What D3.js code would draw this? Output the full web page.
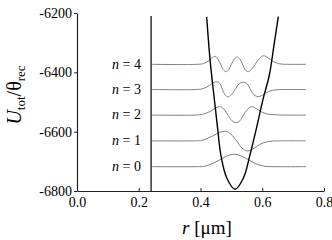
<!DOCTYPE html>
<html><head><meta charset="utf-8">
<script src="https://cdn.jsdelivr.net/npm/d3@7"></script>
<style>
body{margin:0;background:#fff;}
svg{display:block;}
svg text{font-family:"Liberation Serif","Times New Roman","DejaVu Serif",serif !important;fill:#000;}
</style></head>
<body>
<svg id="c" width="332" height="240"></svg>
<script>
// ---- data ----
const xTicks = [0, 0.2, 0.4, 0.6, 0.8];
const yTicks = [-6200, -6400, -6600, -6800];
const levels = [-6718, -6631, -6544, -6458, -6373]; // n = 0..4
const levelLabels = ["0", "1", "2", "3", "4"];
const wallR = 0.24;
const wallTop = -6210;
const potential = [[0.42,-6213],[0.431,-6358],[0.445,-6493],[0.456,-6594],[0.466,-6679],[0.485,-6756],[0.512,-6794],[0.539,-6756],[0.56,-6679],[0.58,-6594],[0.602,-6493],[0.623,-6409],[0.638,-6308],[0.652,-6212]];
const psi0 = [[0.24,0],[0.39,0],[0.411,1],[0.431,7],[0.457,20],[0.483,35],[0.509,42],[0.534,35],[0.56,20],[0.586,7],[0.612,1],[0.64,0],[0.742,0]];
const psi1 = [[0.24,0],[0.382,0],[0.40,1],[0.415,5],[0.44,17],[0.463,29],[0.483,32],[0.499,22],[0.517,0],[0.534,-24],[0.551,-34],[0.57,-27],[0.59,-13],[0.609,-5],[0.632,-1],[0.657,0],[0.742,0]];
const psi2 = [[0.24,0],[0.382,0],[0.408,3],[0.431,12],[0.45,24],[0.465,28],[0.478,17],[0.489,0],[0.502,-19],[0.515,-26],[0.528,-19],[0.539,0],[0.551,17],[0.564,28],[0.58,22],[0.599,10],[0.619,3],[0.645,1],[0.67,0],[0.742,0]];
const psi3 = [[0.24,0],[0.382,0],[0.408,3],[0.428,13],[0.44,22],[0.453,26],[0.463,20],[0.471,0],[0.479,-17],[0.489,-25],[0.5,-17],[0.512,0],[0.525,19],[0.538,25],[0.551,19],[0.562,0],[0.573,-17],[0.586,-24],[0.599,-20],[0.612,-12],[0.625,-5],[0.645,-1],[0.67,0],[0.742,0]];
const psi4 = [[0.24,0],[0.389,0],[0.411,3],[0.428,13],[0.437,22],[0.447,27],[0.457,17],[0.465,0],[0.473,-17],[0.483,-25],[0.492,-17],[0.5,0],[0.509,17],[0.518,25],[0.528,17],[0.536,0],[0.544,-17],[0.554,-25],[0.565,-17],[0.577,0],[0.59,19],[0.604,29],[0.619,22],[0.632,12],[0.645,5],[0.661,1],[0.683,0],[0.742,0]];
const waves = [psi0, psi1, psi2, psi3, psi4];

// ---- chart ----
const svg = d3.select("#c");
const x = d3.scaleLinear().domain([0, 0.8]).range([77, 324]);
const y = d3.scaleLinear().domain([-6800, -6200]).range([191, 13]);

// axes
const gx = svg.append("g").attr("transform", `translate(0,${y(-6800)})`)
  .call(d3.axisBottom(x).tickValues(xTicks).tickFormat(d3.format(".1f")).tickSizeInner(-3).tickSizeOuter(0).tickPadding(6));
const gy = svg.append("g").attr("transform", `translate(${x(0)},0)`)
  .call(d3.axisLeft(y).tickValues(yTicks).tickFormat(d => d3.format("d")(d).replace("−","-")).tickSizeInner(3).tickSizeOuter(0).tickPadding(2));
[gx, gy].forEach(g => {
  g.attr("font-family", null);
  g.select(".domain").attr("stroke", "#222").attr("stroke-width", 1.2);
  g.selectAll(".tick line").attr("stroke", "#222");
  g.selectAll(".tick text").attr("font-size", 14).attr("fill", "#000");
});
gy.selectAll(".tick text").attr("dy", "0.32em");

// wavefunctions
const line = d3.line().curve(d3.curveCatmullRom.alpha(0.5));
waves.forEach((w, i) => {
  svg.append("path")
    .attr("d", line(w.map(p => [x(p[0]), y(levels[i] + p[1])])))
    .attr("fill", "none").attr("stroke", "#808080").attr("stroke-width", 1);
});

// wall
svg.append("line").attr("x1", x(wallR)).attr("x2", x(wallR))
  .attr("y1", y(wallTop)).attr("y2", y(-6800))
  .attr("stroke", "#333").attr("stroke-width", 1.5);

// potential
svg.append("path")
  .attr("d", line(potential.map(p => [x(p[0]), y(p[1])])))
  .attr("fill", "none").attr("stroke", "#000").attr("stroke-width", 1.4);

// level labels
levels.forEach((e, i) => {
  const t = svg.append("text").attr("x", 141).attr("y", y(e)).attr("dy", "0.3em")
    .attr("text-anchor", "end").attr("font-size", 14);
  t.append("tspan").attr("font-style", "italic").text("n");
  t.append("tspan").text(" = " + levelLabels[i]);
});

// x title
const xt = svg.append("text").attr("x", 207).attr("y", 234).attr("text-anchor", "middle").attr("font-size", 19);
xt.append("tspan").attr("font-style", "italic").text("r");
xt.append("tspan").text(" [μm]");

// y title
const yt = svg.append("text").attr("transform", "translate(21,95) rotate(-90)").attr("text-anchor", "middle").attr("font-size", 20);
yt.append("tspan").attr("font-style", "italic").text("U");
yt.append("tspan").attr("font-size", 13).attr("dy", 4).text("tot");
yt.append("tspan").attr("dy", -4).text("/θ");
yt.append("tspan").attr("font-size", 13).attr("dy", 4).text("rec");
</script>
</body></html>
